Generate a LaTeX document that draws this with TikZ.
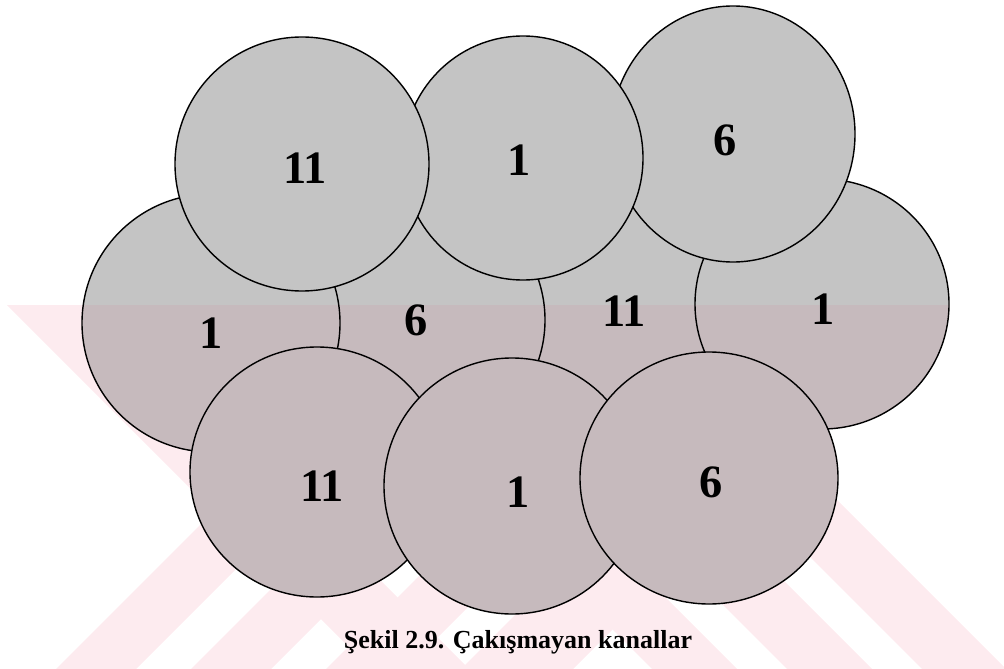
\documentclass[tikz,border=0pt]{standalone}
\usepackage{fontspec}
\setmainfont{Liberation Serif}
\definecolor{cellgray}{HTML}{C4C4C4}
\definecolor{cellpink}{RGB}{198,186,189}
\definecolor{markpink}{RGB}{253,235,239}

\begin{document}
\begin{tikzpicture}[x=0.025cm,y=-0.025cm,
    cell/.style={draw=black,line width=1pt},
    chan/.style={font=\fontsize{33}{33}\selectfont\bfseries},
    caption/.style={font=\fontsize{18.5}{21}\selectfont\bfseries}]
  \useasboundingbox (0,0) rectangle (1004,669);
  % watermark stripes
  \begin{scope}
    \clip (0,305) rectangle (1004,669);
    \foreach \a/\b in {200/298, -68/17, -203/-118, -337/-253}
      \fill[markpink] ({300-\a},300) -- ({675-\a},675) -- ({675-\b},675) -- ({300-\b},300) -- cycle;
    \foreach \a/\b in {725/805, 860/940, 995/1075, 1130/1242}
      \fill[markpink] ({\a-300},300) -- ({\b-300},300) -- ({\b-675},675) -- ({\a-675},675) -- cycle;
  \end{scope}
  % cells: middle row, then top row, then bottom row
  \foreach \nm/\cx/\cy/\rx/\ry in {m11/622/310/128/127, m6/417/320/128/127,
      m1a/211/323/129/129, m1b/822/304/127/125,
      t6/733/134/122/128, t1/523/158/120/122, t11/302/164/127/127,
      b11/317/472/127/125, b1/512/486/128/128, b6/709/478/129/126} {
    \fill[cellgray] (\cx,\cy) coordinate (\nm) ellipse [x radius=\rx, y radius=\ry];
    \begin{scope}
      \clip (0,305) rectangle (1004,669);
      \fill[cellpink] (\nm) ellipse [x radius=\rx, y radius=\ry];
    \end{scope}
    \draw[cell] (\nm) ellipse [x radius=\rx, y radius=\ry];
  }
  \node[chan] (l-m11) at (624,311) {11};
  \node[chan] (l-m6) at (416,320) {6};
  \node[chan] (l-m1a) at (211,333) {1};
  \node[chan] (l-m1b) at (823,309) {1};
  \node[chan] (l-t6) at (725,140) {6};
  \node[chan] (l-t1) at (519,160) {1};
  \node[chan] (l-t11) at (305,168) {11};
  \node[chan] (l-b11) at (322,486) {11};
  \node[chan] (l-b1) at (518,492) {1};
  \node[chan] (l-b6) at (711,482) {6};
  \node[caption] (cap) at (518,642) {Şekil 2.9. Çakışmayan kanallar};
\end{tikzpicture}
\end{document}
